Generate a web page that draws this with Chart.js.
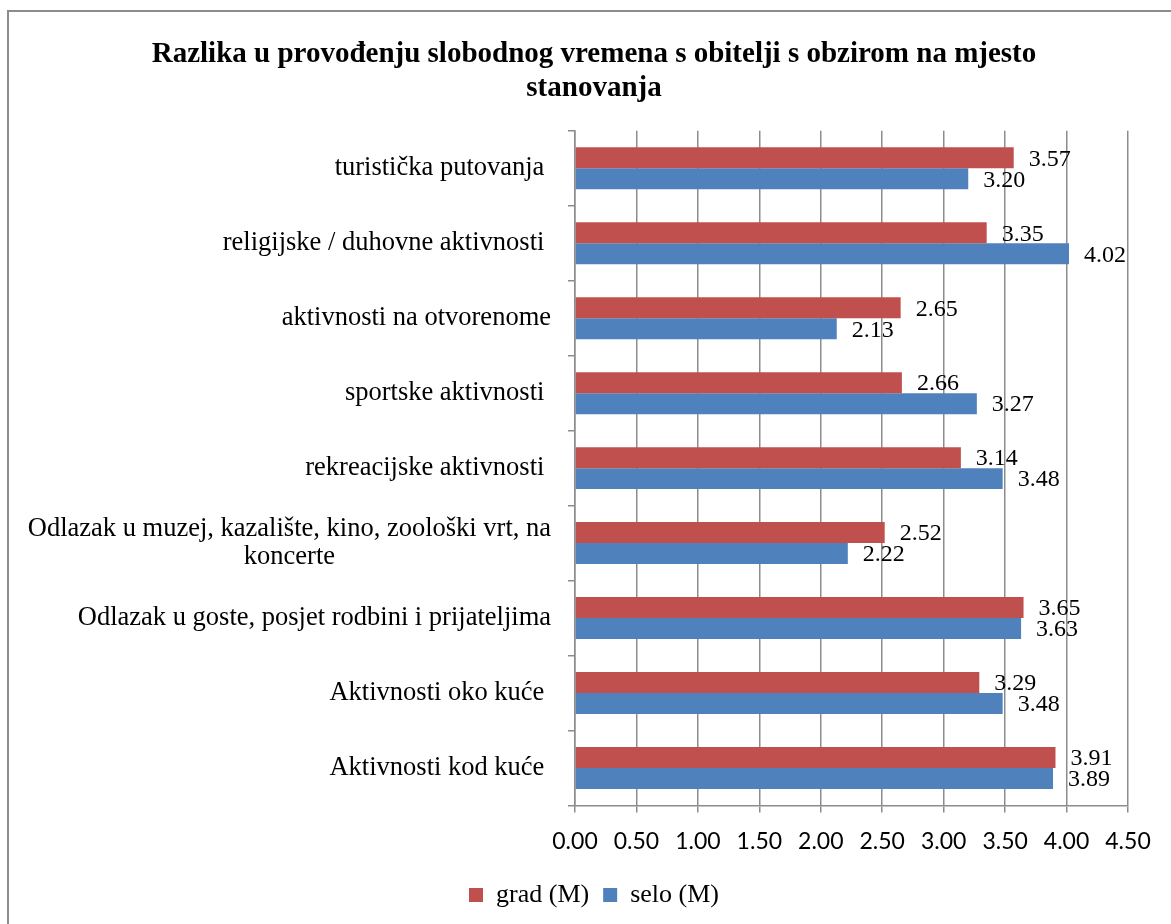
<!DOCTYPE html>
<html>
<head>
<meta charset="utf-8">
<script src="https://cdn.jsdelivr.net/npm/chart.js@4"></script>
<style>
  html, body { margin: 0; padding: 0; background: #fff; overflow: hidden; }
  #frame { position: absolute; left: 7px; top: 10px; width: 1300px; height: 1000px; border: 2px solid #8c8c8c; box-sizing: border-box; }
  #wrap { position: absolute; left: 8px; top: 0; width: 1172px; height: 924px; }
</style>
</head>
<body>
<div id="frame"></div>
<div id="wrap"><canvas id="myChart"></canvas></div>
<script>
const categories = [
    "turistička putovanja ",
    "religijske / duhovne aktivnosti ",
    "aktivnosti na otvorenome",
    "sportske aktivnosti ",
    "rekreacijske aktivnosti ",
    ["Odlazak u muzej, kazalište, kino, zoološki vrt, na", "koncerte"],
    "Odlazak u goste, posjet rodbini i prijateljima",
    "Aktivnosti oko kuće ",
    "Aktivnosti kod kuće "
];
const grad = [3.57, 3.35, 2.65, 2.66, 3.14, 2.52, 3.65, 3.29, 3.91];
const selo = [3.20, 4.02, 2.13, 3.27, 3.48, 2.22, 3.63, 3.48, 3.89];
const xTicks = [0, 0.5, 1, 1.5, 2, 2.5, 3, 3.5, 4, 4.5];

const serif = "'Liberation Serif', 'Times New Roman', serif";

// value labels right of each bar
const valueLabels = {
    id: "valueLabels",
    afterDatasetsDraw(chart) {
        const ctx = chart.ctx;
        ctx.save();
        ctx.font = "24px " + serif;
        ctx.fillStyle = "#000";
        ctx.textAlign = "left";
        ctx.textBaseline = "middle";
        chart.data.datasets.forEach((ds, i) => {
            chart.getDatasetMeta(i).data.forEach((bar, j) => {
                ctx.fillText(ds.data[j].toFixed(2), bar.x + 15, bar.y + 1.5);
            });
        });
        ctx.restore();
    }
};

// category labels: right aligned, wrapped lines centred on each other
const catLabels = {
    id: "catLabels",
    afterDraw(chart) {
        const ctx = chart.ctx;
        const y = chart.scales.y;
        const right = 543;
        ctx.save();
        ctx.font = "26.5px " + serif;
        ctx.fillStyle = "#000";
        ctx.textBaseline = "middle";
        categories.forEach((lab, i) => {
            const lines = Array.isArray(lab) ? lab : [lab];
            const w = Math.max(...lines.map(l => ctx.measureText(l).width));
            const cy = y.getPixelForValue(i);
            const lh = 28;
            lines.forEach((l, k) => {
                const ly = cy + (k - (lines.length - 1) / 2) * lh;
                if (lines.length > 1) {
                    ctx.textAlign = "center";
                    ctx.fillText(l, right - w / 2, ly);
                } else {
                    ctx.textAlign = "right";
                    ctx.fillText(l, right, ly);
                }
            });
        });
        ctx.restore();
    }
};

const ctx = document.getElementById("myChart").getContext("2d");
const myChart = new Chart(ctx, {
    type: "bar",
    data: {
        labels: categories,
        datasets: [
            { label: "grad (M)", data: grad, backgroundColor: "#C0504D", borderWidth: 0 },
            { label: "selo (M)", data: selo, backgroundColor: "#4F81BD", borderWidth: 0 }
        ]
    },
    options: {
        indexAxis: "y",
        responsive: true,
        maintainAspectRatio: false,
        animation: false,
        categoryPercentage: 0.56,
        barPercentage: 1.0,
        layout: { padding: { left: 0, right: 0, top: 0, bottom: 6 } },
        scales: {
            x: {
                min: 0,
                max: 4.5,
                afterBuildTicks: (s) => { s.ticks = xTicks.map(v => ({ value: v })); },
                afterFit: (s) => { s.height -= 2; s.paddingRight = 52; },
                ticks: {
                    color: "#000",
                    font: { family: "Lato, 'Open Sans', sans-serif", size: 23 },
                    padding: 15,
                    maxRotation: 0,
                    callback: (v) => Number(v).toFixed(2)
                },
                grid: { color: "#8c8c8c", lineWidth: 1.5, tickLength: 7, drawTicks: true },
                border: { color: "#8c8c8c", width: 1.5 }
            },
            y: {
                afterFit: (s) => { s.width = 567; },
                ticks: { display: false },
                grid: { drawOnChartArea: false, drawTicks: true, tickLength: 7, color: "#8c8c8c", lineWidth: 1.5, offset: true },
                border: { color: "#8c8c8c", width: 1.5 }
            }
        },
        plugins: {
            title: {
                display: true,
                text: ["Razlika u provođenju slobodnog vremena s obitelji s obzirom na mjesto", "stanovanja"],
                color: "#000",
                font: { family: serif, size: 29, weight: "bold", lineHeight: 1.17 },
                padding: { top: 38, bottom: 25 }
            },
            legend: {
                position: "bottom",
                labels: {
                    color: "#000",
                    boxWidth: 14,
                    boxHeight: 14,
                    padding: 14,
                    font: { family: serif, size: 26 }
                }
            },
            tooltip: { enabled: false }
        }
    },
    plugins: [valueLabels, catLabels]
});
</script>
</body>
</html>
